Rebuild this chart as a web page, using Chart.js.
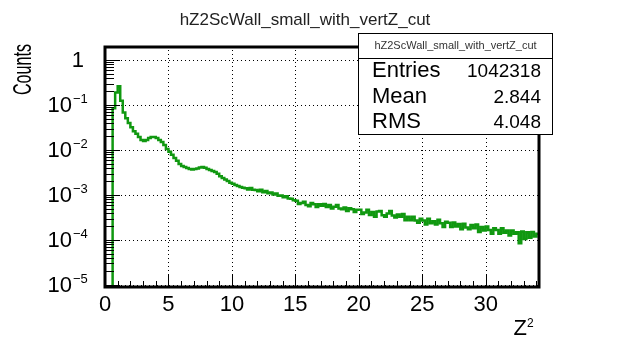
<!DOCTYPE html>
<html>
<head>
<meta charset="utf-8">
<script src="https://cdn.jsdelivr.net/npm/chart.js@4.4.1/dist/chart.umd.min.js"></script>
<style>
  html, body { margin: 0; padding: 0; background: #fff; }
  canvas { display: block; }
</style>
</head>
<body>
<canvas id="hChart" width="624" height="337"></canvas>
<script>
// histogram hZ2ScWall_small_with_vertZ_cut, bins of 0.2 in Z^2 starting at 0
var binWidth = 0.2;
var counts = [
  1e-7, 1e-7, 1e-7, 8.5e-2, 1.9e-1, 2.6e-1, 1.25e-1, 6.8e-2, 5.1e-2, 4.0e-2,
  3.2e-2, 2.6e-2, 2.3e-2, 1.95e-2, 1.66e-2, 1.58e-2, 1.66e-2, 1.86e-2, 1.95e-2, 1.95e-2,
  1.86e-2, 1.66e-2, 1.51e-2, 1.29e-2, 1.05e-2, 9.1e-3, 7.8e-3, 6.6e-3, 5.75e-3, 4.9e-3,
  4.4e-3, 4.2e-3, 4.0e-3, 3.8e-3, 3.7e-3, 3.8e-3, 3.9e-3, 4.1e-3, 4.2e-3, 4.05e-3,
  3.8e-3, 3.6e-3, 3.4e-3, 3.25e-3, 2.95e-3, 2.6e-3, 2.4e-3, 2.2e-3, 2.05e-3, 1.86e-3,
  1.78e-3, 1.66e-3, 1.58e-3, 1.51e-3, 1.45e-3, 1.41e-3, 1.33e-3, 1.43e-3, 1.31e-3, 1.29e-3,
  1.21e-3, 1.3e-3, 1.15e-3, 1.22e-3, 1.09e-3, 1.14e-3, 1.03e-3, 1.08e-3, 9.6e-4, 9.7e-4,
  8.9e-4, 9.4e-4, 8.4e-4, 8.2e-4, 7.6e-4, 7.4e-4, 6.3e-4, 6.6e-4, 7.1e-4, 6.0e-4,
  5.6e-4, 6.6e-4, 6.2e-4, 5.4e-4, 6.2e-4, 5.75e-4, 6.3e-4, 5.4e-4, 6.0e-4, 5.0e-4,
  5.5e-4, 6.0e-4, 5.0e-4, 4.8e-4, 5.25e-4, 4.4e-4, 5.1e-4, 4.8e-4, 4.2e-4, 4.7e-4,
  4.7e-4, 3.8e-4, 4.1e-4, 4.7e-4, 3.6e-4, 4.2e-4, 3.3e-4, 4.3e-4, 4.4e-4, 3.55e-4,
  3.3e-4, 3.9e-4, 4.4e-4, 3.5e-4, 3.15e-4, 3.7e-4, 3.3e-4, 3.8e-4, 2.75e-4, 3.3e-4,
  2.75e-4, 3.3e-4, 2.7e-4, 2.4e-4, 2.95e-4, 2.7e-4, 2.2e-4, 2.95e-4, 2.35e-4, 2.6e-4,
  2.2e-4, 2.8e-4, 2.35e-4, 1.95e-4, 2.55e-4, 2.4e-4, 1.95e-4, 2.45e-4, 2.0e-4, 2.25e-4,
  1.74e-4, 2.3e-4, 1.9e-4, 1.74e-4, 2.15e-4, 1.82e-4, 2.2e-4, 1.51e-4, 1.95e-4, 1.62e-4,
  2.0e-4, 1.66e-4, 1.38e-4, 1.82e-4, 1.66e-4, 1.38e-4, 1.82e-4, 1.45e-4, 1.62e-4, 1.26e-4,
  1.62e-4, 1.38e-4, 1.48e-4, 8.5e-5, 1.55e-4, 1.05e-4, 1.48e-4, 1.12e-4, 1.51e-4, 1.2e-4,
  1.38e-4
];
var xTicks = [0, 5, 10, 15, 20, 25, 30];
var yDecades = [1e-5, 1e-4, 1e-3, 1e-2, 1e-1, 1];
var histTitle = "hZ2ScWall_small_with_vertZ_cut";
var xTitle = "Z";
var yTitle = "Counts";
var statLabels = ["Entries", "Mean", "RMS"];
var statValues = ["1042318", "2.844", "4.048"];

var FONT = "'Liberation Sans', Arial, Helvetica, sans-serif";

// step outline: one point per left bin edge, plus the right edge of the last bin
var points = counts.map(function (c, i) { return { x: +(i * binWidth).toFixed(2), y: c }; });
points.push({ x: +(counts.length * binWidth).toFixed(2), y: counts[counts.length - 1] });

var rootFrame = {
  id: "rootFrame",
  beforeDatasetsDraw: function (chart) {
    var ctx = chart.ctx, a = chart.chartArea;
    var xs = chart.scales.x, ys = chart.scales.y;
    ctx.save();
    ctx.strokeStyle = "#000";
    ctx.lineWidth = 1;
    ctx.setLineDash([1, 3]);
    xTicks.forEach(function (v) {
      if (v <= xs.min || v >= xs.max) return;
      var px = Math.round(xs.getPixelForValue(v)) + 0.5;
      ctx.beginPath(); ctx.moveTo(px, a.bottom); ctx.lineTo(px, a.top); ctx.stroke();
    });
    yDecades.forEach(function (v) {
      var py = Math.round(ys.getPixelForValue(v)) + 0.5;
      ctx.beginPath(); ctx.moveTo(a.left, py); ctx.lineTo(a.right, py); ctx.stroke();
    });
    ctx.restore();
  },
  afterDatasetsDraw: function (chart) {
    var ctx = chart.ctx, a = chart.chartArea;
    var xs = chart.scales.x, ys = chart.scales.y;
    ctx.save();
    ctx.strokeStyle = "#000";
    ctx.lineWidth = 1;
    // inside ticks, y axis (log: 1..9 per decade)
    for (var e = -6; e <= 0; e++) {
      for (var m = 1; m <= 9; m++) {
        var v = m * Math.pow(10, e);
        if (v < ys.min || v > ys.max) continue;
        var py = Math.round(ys.getPixelForValue(v)) + 0.5;
        var len = m === 1 ? 15 : 9;
        ctx.beginPath(); ctx.moveTo(a.left, py); ctx.lineTo(a.left + len, py); ctx.stroke();
      }
    }
    // inside ticks, x axis
    for (var k = 0; k <= Math.floor(xs.max); k++) {
      var px = Math.round(xs.getPixelForValue(k)) + 0.5;
      var l2 = k % 5 === 0 ? 12 : 6;
      ctx.beginPath(); ctx.moveTo(px, a.bottom); ctx.lineTo(px, a.bottom - l2); ctx.stroke();
    }
    // frame
    ctx.lineWidth = 3;
    ctx.strokeRect(a.left, a.top, a.right - a.left, a.bottom - a.top);

    // y tick labels, 10 with a raised exponent
    ctx.fillStyle = "#000";
    ctx.textBaseline = "middle";
    yDecades.forEach(function (v) {
      var py = ys.getPixelForValue(v);
      var ex = Math.round(Math.log10(v));
      ctx.textAlign = "right";
      ctx.font = "22px " + FONT;
      if (ex === 0) { ctx.fillText("1", 84, py + 1); return; }
      ctx.fillText("10", 72, py + 1);
      ctx.textAlign = "left";
      ctx.font = "13px " + FONT;
      ctx.fillText("\u2212" + (-ex), 73, py - 6);
    });

    // axis titles
    ctx.save();
    ctx.translate(24, 44);
    ctx.rotate(-Math.PI / 2);
    ctx.scale(0.62, 1);
    ctx.textAlign = "right";
    ctx.font = "26px " + FONT;
    ctx.fillText(yTitle, 0, 0);
    ctx.restore();
    ctx.textBaseline = "alphabetic";
    ctx.textAlign = "right";
    ctx.font = "22px " + FONT;
    ctx.fillText(xTitle, 527, 335);
    ctx.textAlign = "left";
    ctx.font = "12px " + FONT;
    ctx.fillText("2", 527, 327);

    // title
    ctx.textBaseline = "middle";
    ctx.fillStyle = "#222";
    ctx.font = "17px " + FONT;
    ctx.textAlign = "center";
    ctx.fillText(histTitle, 305, 20);

    // stats box
    var bx = 358.5, by = 33.5, bw = 194, bh = 101;
    ctx.fillStyle = "#fff";
    ctx.fillRect(bx, by, bw, bh);
    ctx.lineWidth = 1;
    ctx.strokeRect(bx, by, bw, bh);
    ctx.beginPath(); ctx.moveTo(bx, 58.5); ctx.lineTo(bx + bw, 58.5); ctx.stroke();
    ctx.fillStyle = "#333";
    ctx.font = "11px " + FONT;
    ctx.fillText(histTitle, bx + bw / 2, 46);
    ctx.fillStyle = "#000";
    var rowY = [71, 97, 122];
    statLabels.forEach(function (s, i) {
      ctx.textAlign = "left";
      ctx.font = "22px " + FONT;
      ctx.fillText(s, 372, rowY[i]);
      ctx.textAlign = "right";
      ctx.font = "19px " + FONT;
      ctx.fillText(statValues[i], 541, rowY[i] + 1);
    });
    ctx.restore();
  }
};

new Chart(document.getElementById("hChart").getContext("2d"), {
  type: "line",
  data: {
    datasets: [{
      data: points,
      stepped: true,
      borderColor: "#109810",
      borderWidth: 2.5,
      pointRadius: 0,
      fill: false
    }]
  },
  options: {
    responsive: false,
    animation: false,
    devicePixelRatio: 1,
    layout: { padding: { top: 47, right: 85, left: 0, bottom: 0 } },
    plugins: { legend: { display: false }, tooltip: { enabled: false }, title: { display: false } },
    scales: {
      x: {
        type: "linear",
        min: 0,
        max: 34.2,
        afterFit: function (s) { s.height = 50; },
        grid: { display: false, drawTicks: false },
        border: { display: false },
        ticks: {
          stepSize: 5,
          includeBounds: false,
          padding: 5,
          color: "#000",
          font: { family: FONT, size: 22 }
        }
      },
      y: {
        type: "logarithmic",
        min: 9e-6,
        max: 1.95,
        afterFit: function (s) { s.width = 105; },
        afterBuildTicks: function (s) { s.ticks = yDecades.map(function (v) { return { value: v }; }); },
        grid: { display: false, drawTicks: false },
        border: { display: false },
        ticks: { display: false }
      }
    }
  },
  plugins: [rootFrame]
});
</script>
</body>
</html>
